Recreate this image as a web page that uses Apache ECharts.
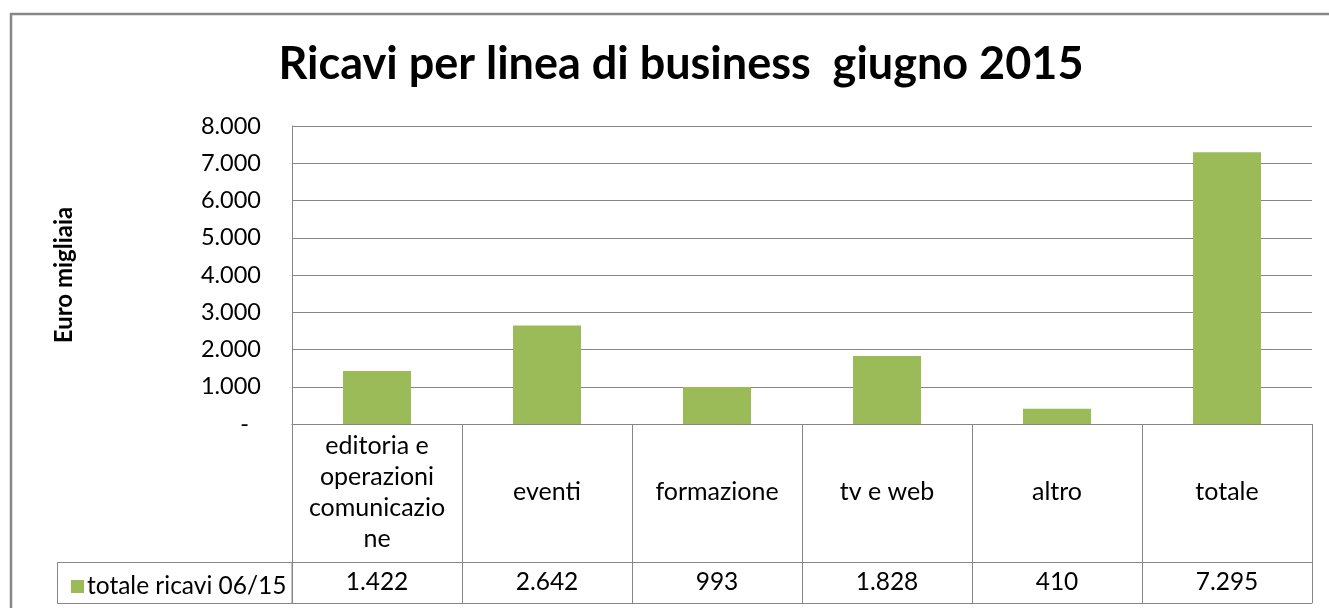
<!DOCTYPE html>
<html>
<head>
<meta charset="utf-8">
<script src="https://cdn.jsdelivr.net/npm/echarts@6/dist/echarts.min.js"></script>
<style>
html,body{margin:0;padding:0;background:#fff;}
#chart{width:1329px;height:608px;}
</style>
</head>
<body>
<div id="chart"></div>
<script>
const titleText = 'Ricavi per linea di business  giugno 2015';
const yAxisName = 'Euro migliaia';
const seriesName = 'totale ricavi 06/15';
const categories = ['editoria e\noperazioni\ncomunicazio\nne', 'eventi', 'formazione', 'tv e web', 'altro', 'totale'];
const values = [1422, 2642, 993, 1828, 410, 7295];
const yTicks = [0, 1000, 2000, 3000, 4000, 5000, 6000, 7000, 8000];

const FONT = 'Lato, "Open Sans", sans-serif';
const GRID_COLOR = '#868686';
const BAR_COLOR = '#9BBB59';

function fmt(v) {
  if (v === 0) return '-';
  return String(v).replace(/\B(?=(\d{3})+(?!\d))/g, '.');
}

const chart = echarts.init(document.getElementById('chart'), null, {renderer: 'canvas'});
const option = {
  animation: false,
  backgroundColor: '#fff',
  title: {
    text: titleText,
    left: 676,
    textAlign: 'center',
    top: 37,
    textStyle: {fontFamily: FONT, fontWeight: 'bold', fontSize: 45, color: '#000'}
  },
  legend: {
    data: [seriesName],
    left: 66,
    top: 569,
    icon: 'rect',
    itemWidth: 13,
    itemHeight: 13,
    itemGap: 6,
    textStyle: {fontFamily: FONT, fontSize: 24.5, color: '#000', padding: [0, 0, 0, -2]}
  },
  grid: {left: 292, right: 17, top: 126, bottom: 184, containLabel: false},
  xAxis: [
    {
      type: 'category',
      data: categories,
      position: 'bottom',
      boundaryGap: true,
      axisLine: {show: true, lineStyle: {color: GRID_COLOR, width: 1}},
      axisTick: {show: true, length: 179, interval: 0, lineStyle: {color: GRID_COLOR, width: 1}},
      axisLabel: {
        interval: 0, margin: 68, verticalAlign: 'middle', lineHeight: 31,
        fontFamily: FONT, fontSize: 25, color: '#000'
      }
    },
    {
      type: 'category',
      data: categories,
      position: 'bottom',
      offset: 138,
      axisLine: {show: true, lineStyle: {color: GRID_COLOR, width: 1}},
      axisTick: {show: false},
      axisLabel: {
        interval: 0, margin: 20, verticalAlign: 'middle',
        fontFamily: FONT, fontSize: 24.5, color: '#000',
        formatter: function (v, i) { return fmt(values[i]); }
      }
    },
    {
      type: 'category',
      data: categories,
      position: 'bottom',
      offset: 179,
      axisLine: {show: true, lineStyle: {color: GRID_COLOR, width: 1}},
      axisTick: {show: false},
      axisLabel: {show: false}
    }
  ],
  yAxis: {
    type: 'value',
    min: yTicks[0],
    max: yTicks[yTicks.length - 1],
    interval: 1000,
    name: yAxisName,
    nameLocation: 'middle',
    nameRotate: 90,
    nameGap: 216,
    nameTextStyle: {fontFamily: FONT, fontWeight: 'bold', fontSize: 24, color: '#000'},
    axisLine: {show: true, lineStyle: {color: GRID_COLOR, width: 1}},
    axisTick: {show: false},
    splitLine: {show: true, lineStyle: {color: GRID_COLOR, width: 1}},
    axisLabel: {
      margin: 31,
      fontFamily: FONT, fontSize: 23.5, color: '#000',
      formatter: function (v) { return v === 0 ? '{d|-}' : fmt(v); },
      rich: {d: {fontFamily: FONT, fontSize: 23.5, color: '#000', padding: [0, 12, 0, 0]}}
    }
  },
  series: [{
    name: seriesName,
    type: 'bar',
    data: values,
    barWidth: '40%',
    itemStyle: {color: BAR_COLOR}
  }],
  graphic: [
    {
      type: 'polyline',
      shape: {points: [[1340, 14], [11, 14], [11, 640]]},
      style: {fill: null, stroke: '#878787', lineWidth: 2.5},
      silent: true, z: 0
    },
    {
      type: 'rect',
      shape: {x: 57.5, y: 562.5, width: 234.5, height: 41},
      style: {fill: 'none', stroke: GRID_COLOR, lineWidth: 1},
      silent: true, z: 0
    }
  ]
};
chart.setOption(option);
</script>
</body>
</html>
